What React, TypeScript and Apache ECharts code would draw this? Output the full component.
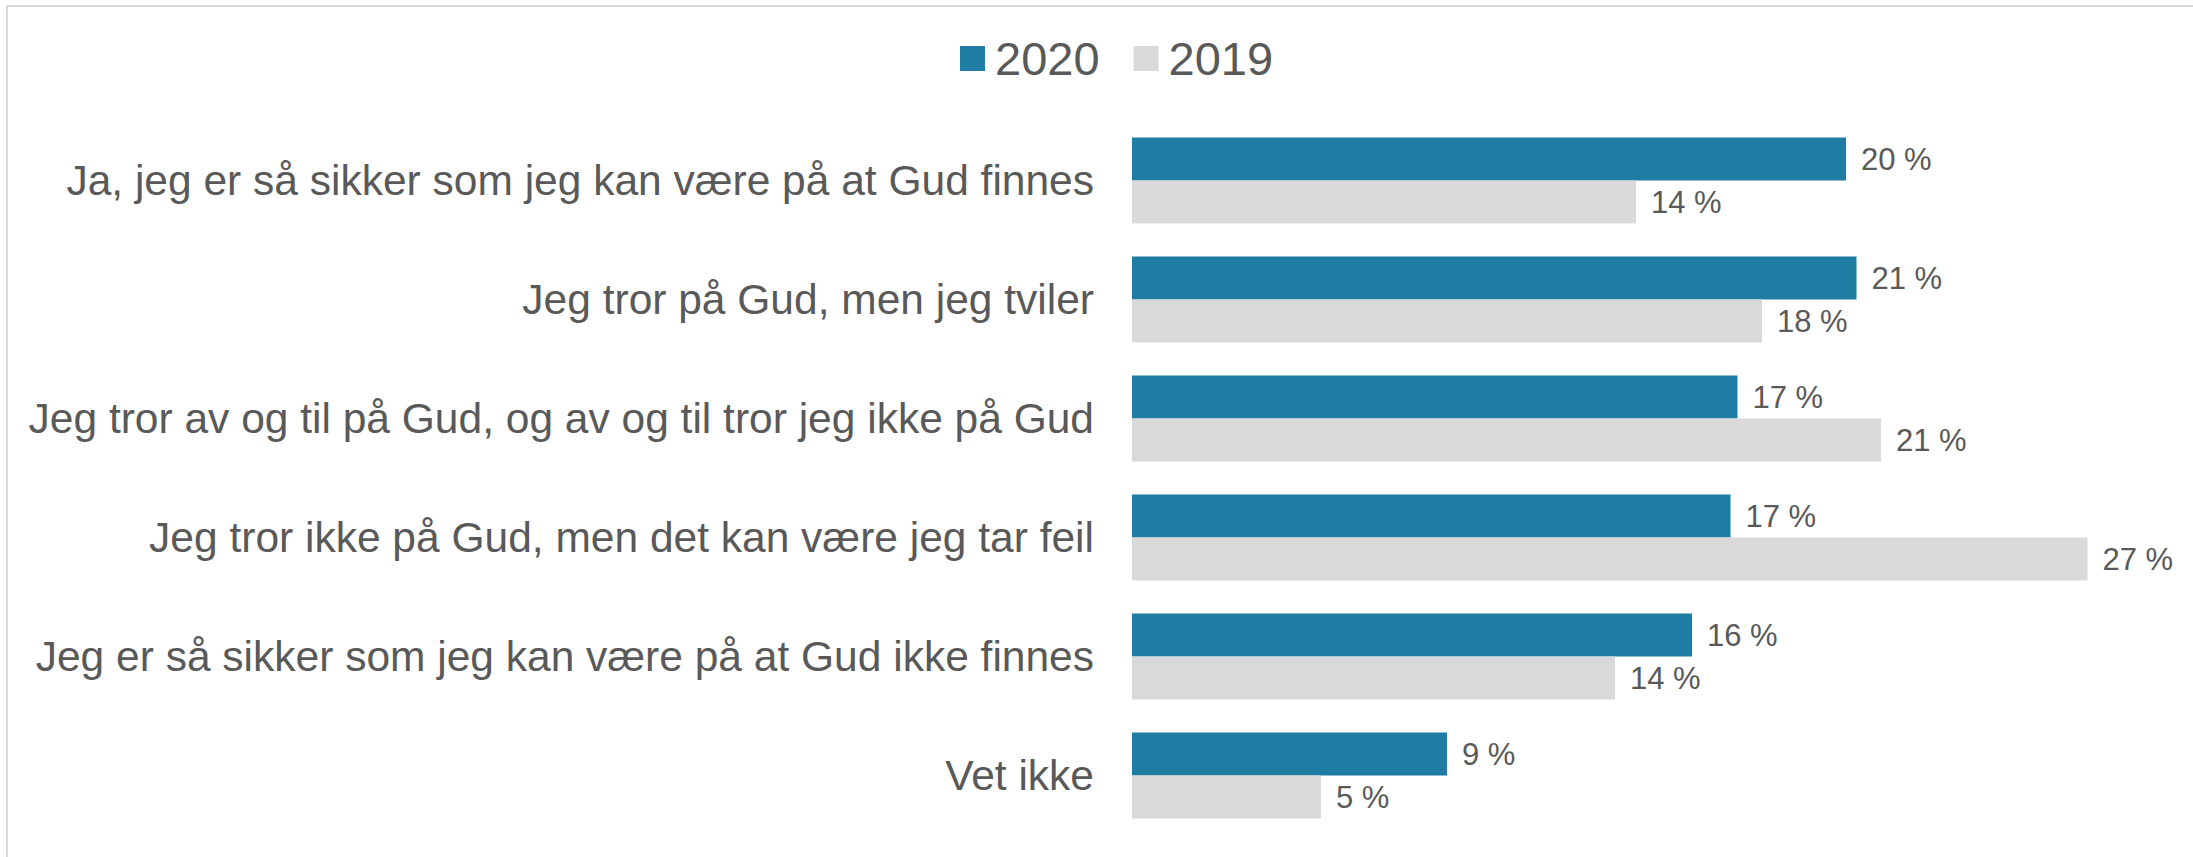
import React, { useEffect, useRef } from "react";
import * as echarts from "echarts";

const categories = [
  "Ja, jeg er så sikker som jeg kan være på at Gud finnes",
  "Jeg tror på Gud, men jeg tviler",
  "Jeg tror av og til på Gud, og av og til tror jeg ikke på Gud",
  "Jeg tror ikke på Gud, men det kan være jeg tar feil",
  "Jeg er så sikker som jeg kan være på at Gud ikke finnes",
  "Vet ikke",
];
const seriesNames = ["2020", "2019"];
const values2020 = [20.4, 20.7, 17.3, 17.1, 16.0, 9.0];
const values2019 = [14.4, 18.0, 21.4, 27.3, 13.8, 5.4];

const FONT = "'Liberation Sans', Arial, sans-serif";
const TEXT = "#595959";

export default function App() {
  const ref = useRef<HTMLDivElement>(null);
  useEffect(() => {
    document.body.style.margin = "0";
    const chart = echarts.init(ref.current!, null, { renderer: "svg" });
    const label = {
      show: true,
      position: "right",
      distance: 15,
      fontSize: 31,
      fontFamily: FONT,
      color: TEXT,
      formatter: (p: any) => Math.round(p.value) + " %",
    };
    chart.setOption({
      animation: false,
      backgroundColor: "#ffffff",
      textStyle: { fontFamily: FONT },
      graphic: [
        {
          type: "rect",
          shape: { x: 7, y: 6, width: 2300, height: 900 },
          style: { fill: "none", stroke: "#D9D9D9", lineWidth: 2 },
          silent: true,
        },
      ],
      legend: {
        left: 955,
        top: 30,
        itemWidth: 25,
        itemHeight: 25,
        itemGap: 34,
        icon: "rect",
        data: seriesNames,
        textStyle: {
          fontSize: 47,
          fontFamily: FONT,
          color: TEXT,
          lineHeight: 25,
          padding: [0, 0, 0, 5],
        },
      },
      grid: {
        left: 1132,
        right: 11,
        top: 121,
        bottom: 22,
        containLabel: false,
        outerBoundsMode: "none",
      },
      xAxis: {
        type: "value",
        min: 0,
        max: 30,
        show: false,
        splitLine: { show: false },
      },
      yAxis: {
        type: "category",
        inverse: true,
        data: categories,
        axisLine: { show: false },
        axisTick: { show: false },
        axisLabel: {
          margin: 38,
          fontSize: 42.5,
          fontFamily: FONT,
          color: TEXT,
        },
      },
      series: [
        {
          name: seriesNames[0],
          type: "bar",
          data: values2020,
          barWidth: 43,
          barGap: "0%",
          itemStyle: { color: "#1F7CA2" },
          label,
        },
        {
          name: seriesNames[1],
          type: "bar",
          data: values2019,
          barWidth: 43,
          barGap: "0%",
          itemStyle: { color: "#D9D9D9" },
          label,
        },
      ],
    });
    return () => chart.dispose();
  }, []);
  return <div ref={ref} style={{ width: 2193, height: 857 }} />;
}
